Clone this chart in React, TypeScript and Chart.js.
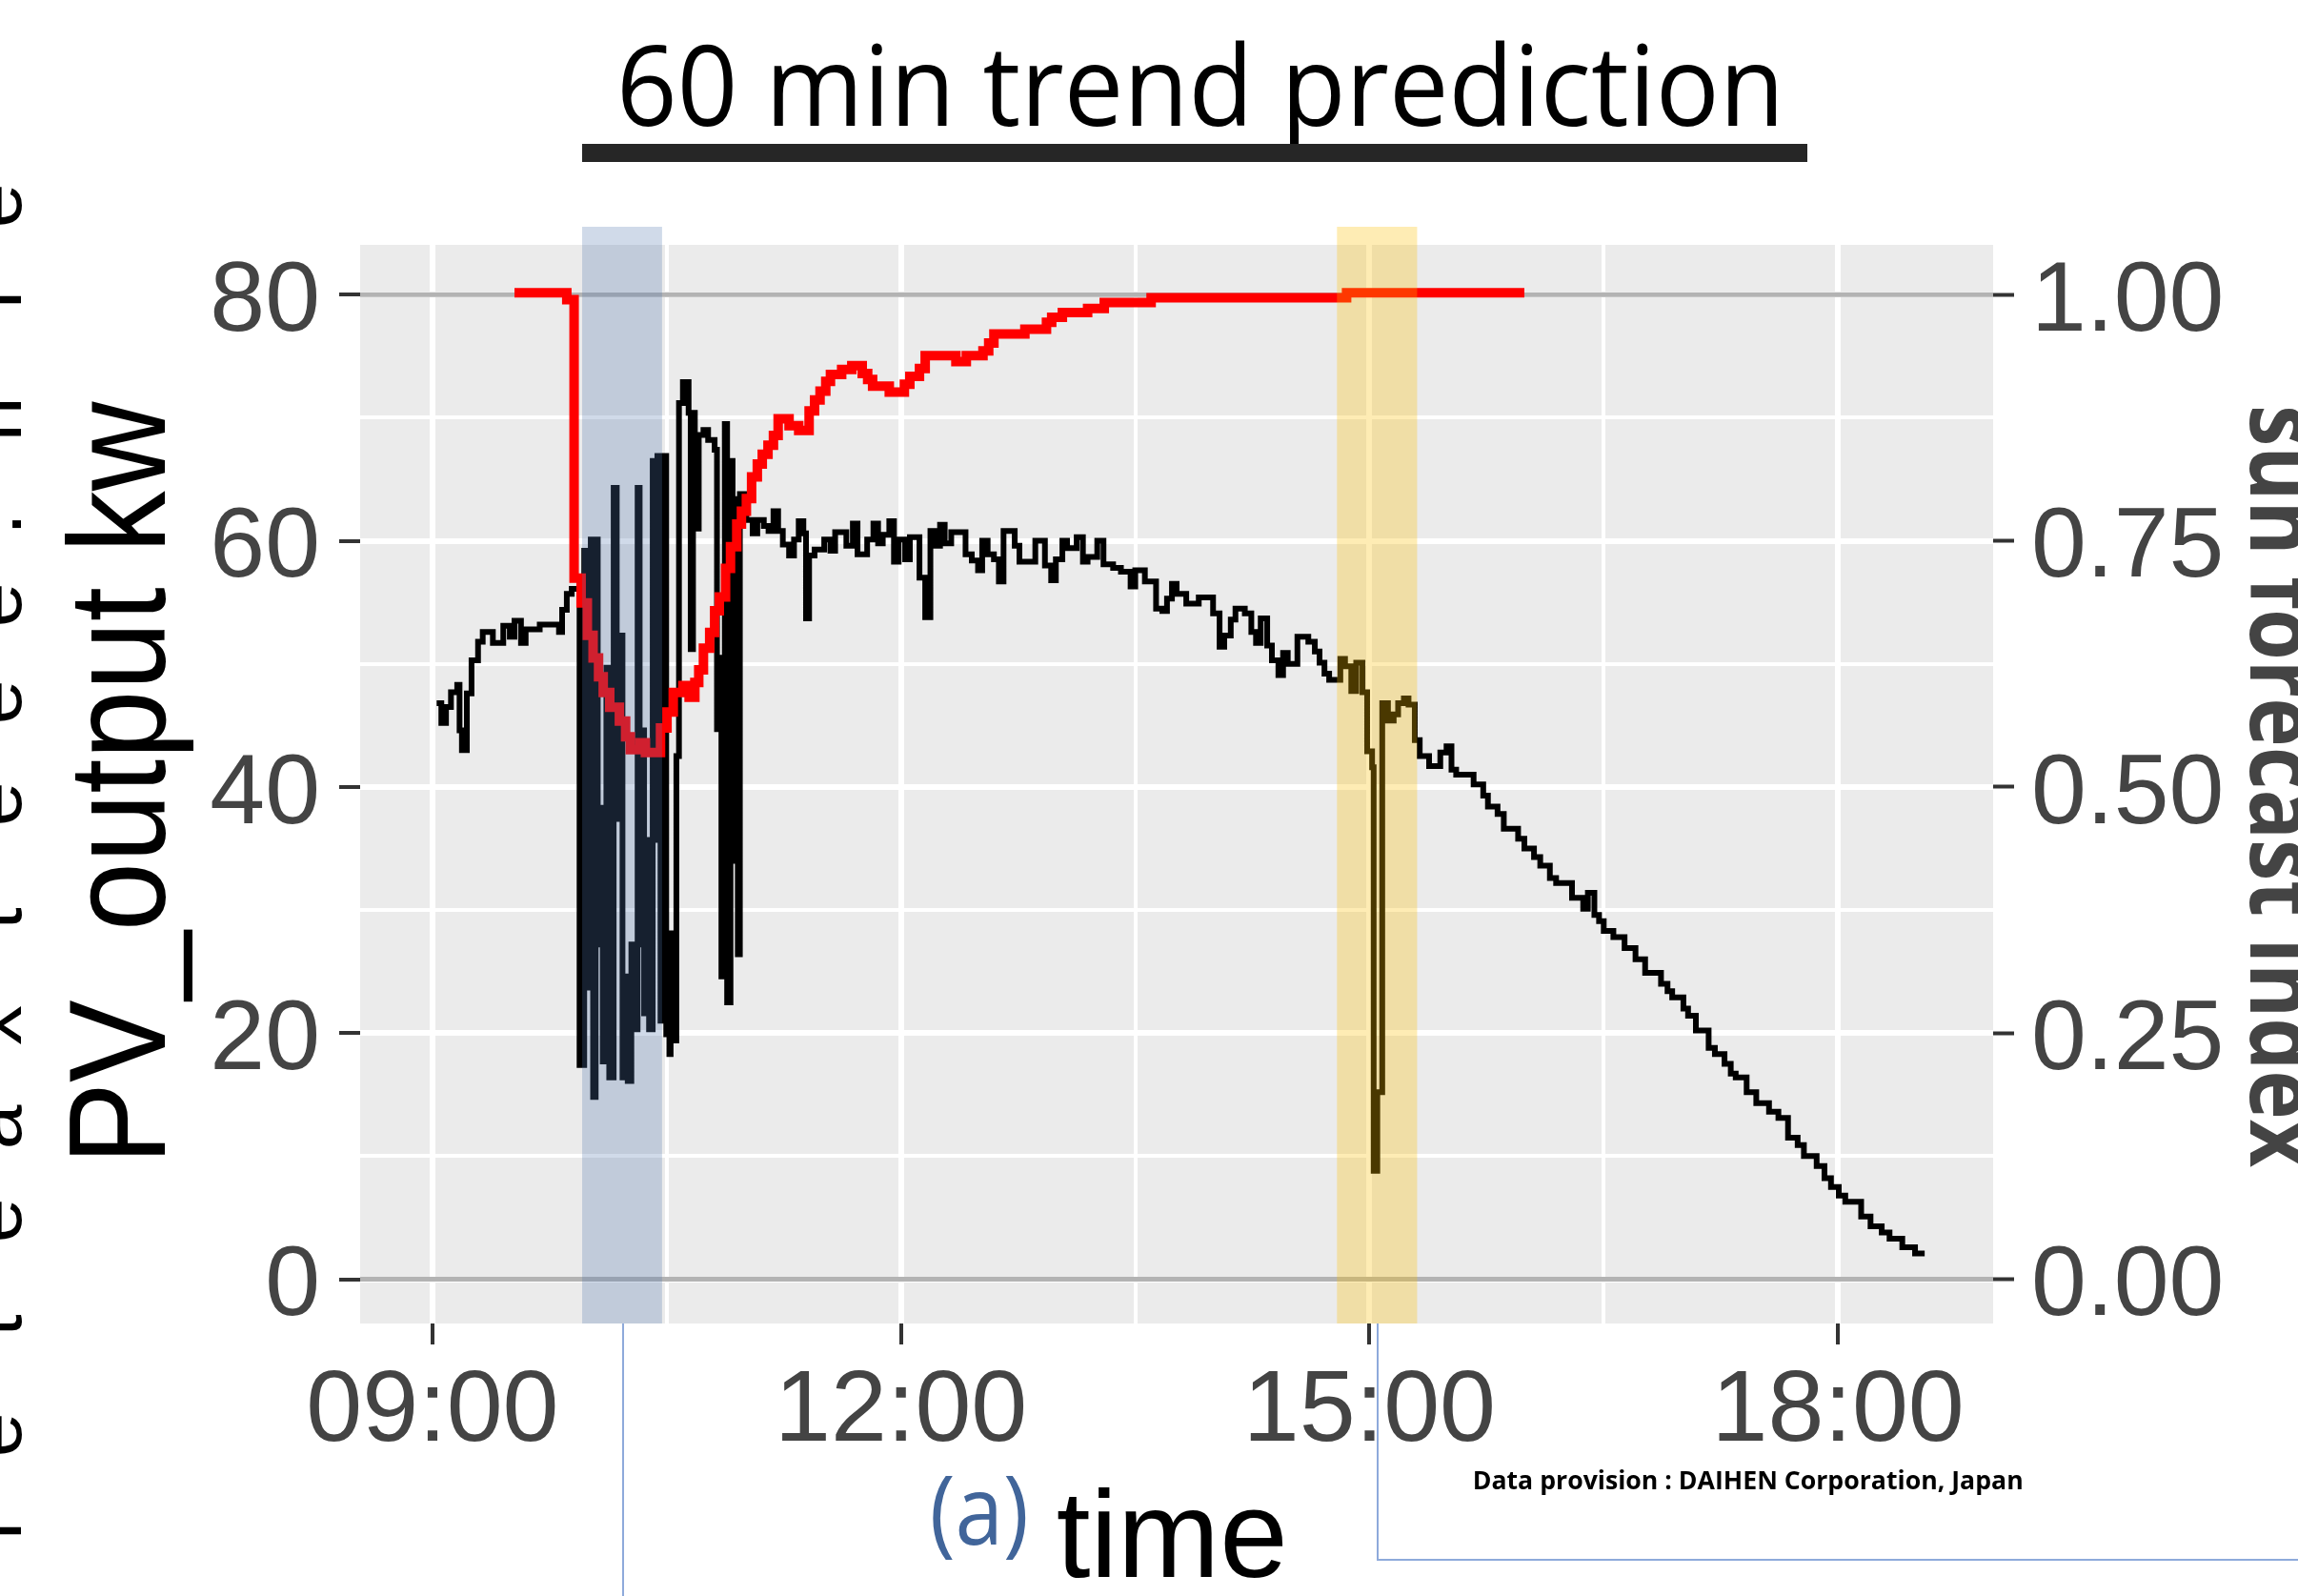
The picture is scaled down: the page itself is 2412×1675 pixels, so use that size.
import React, { useEffect, useRef } from 'react';
import { Chart, registerables } from 'chart.js';

Chart.register(...registerables);

const W = 2412;
const H = 1675;

// PV output (kW); time in minutes after 09:00
const pvMinutes = [
  1.6, 3.4, 5.2, 7.1, 9.5, 10.4, 11.3, 13.2, 15.0, 17.5, 19.3, 23.2, 27.2, 29.7, 31.5, 34.0, 35.8, 41.2, 48.6, 49.8,
  51.6, 53.5, 56.5, 58.3, 59.3, 60.8, 61.7, 62.7, 63.5, 64.7, 65.4, 66.8, 67.9, 69.6, 70.8, 71.8, 73.0, 74.2, 75.0, 76.4,
  77.4, 78.8, 79.6, 80.3, 81.3, 82.2, 83.2, 84.6, 85.4, 86.4, 87.6, 88.6, 89.8, 91.0, 91.5, 92.5, 93.7, 94.7, 96.2, 98.4,
  99.2, 100.1, 100.8, 102.3, 104.1, 105.9, 108.4, 109.3, 110.2, 111.0, 112.3, 113.2, 114.5, 115.3, 116.3, 117.3, 118.1, 120.6, 123.0, 124.8,
  127.3, 129.1, 131.0, 132.8, 134.6, 137.0, 138.9, 140.7, 142.5, 143.5, 144.7, 146.8, 150.5, 152.9, 154.7, 159.0, 161.5, 163.3, 167.0, 169.4,
  171.2, 173.0, 175.5, 177.3, 179.1, 181.6, 183.4, 187.1, 189.3, 191.3, 193.2, 195.0, 196.8, 199.3, 204.8, 207.2, 209.6, 211.2, 213.3, 215.7,
  217.6, 219.4, 223.7, 225.5, 231.6, 235.3, 237.7, 239.5, 242.0, 243.8, 247.5, 249.9, 251.7, 255.4, 257.8, 261.5, 264.5, 268.2, 270.0, 273.7,
  278.0, 280.4, 282.2, 284.1, 285.9, 289.6, 294.4, 299.9, 302.4, 304.2, 306.7, 308.5, 312.1, 314.6, 316.4, 318.2, 320.7, 322.5, 325.0, 326.8,
  328.6, 332.3, 336.5, 339.0, 340.8, 342.7, 344.5, 348.8, 350.6, 353.0, 354.9, 357.3, 359.1, 361.0, 361.6, 363.0, 364.9, 367.1, 369.3, 371.0,
  373.2, 375.0, 377.4, 379.3, 382.9, 387.2, 389.6, 391.5, 393.3, 400.0, 403.7, 405.5, 409.2, 411.6, 417.1, 419.5, 423.2, 425.6, 429.3, 431.7,
  437.8, 442.1, 443.9, 446.4, 448.2, 450.0, 453.7, 458.0, 462.2, 465.9, 472.0, 474.5, 476.3, 480.6, 482.4, 485.4, 490.3, 492.7, 496.4, 498.8,
  500.7, 504.9, 508.6, 513.5, 517.1, 520.8, 524.5, 526.9, 531.8, 534.8, 537.3, 540.3, 542.8, 548.9, 552.5, 556.8, 559.8, 564.7, 569.6, 573.3,
];
const pvKw = [
  46.8, 45.2, 46.5, 47.7, 48.3, 44.6, 43.0, 47.6, 50.3, 51.8, 52.6, 51.7, 53.1, 52.2, 53.5, 51.7, 52.8, 53.2, 52.6, 54.4,
  55.7, 56.1, 17.4, 59.2, 23.7, 60.1, 14.8, 60.1, 27.2, 38.3, 17.7, 49.7, 16.4, 64.3, 37.4, 52.3, 16.4, 24.6, 16.1, 27.2,
  20.3, 64.3, 27.2, 44.6, 21.6, 35.7, 20.3, 66.5, 35.7, 66.9, 21.0, 66.9, 19.9, 18.3, 28.1, 19.4, 42.5, 71.2, 72.9, 70.4,
  51.2, 70.4, 61.0, 68.6, 69.0, 68.2, 67.4, 44.7, 50.5, 24.6, 69.5, 22.5, 66.5, 34.0, 63.4, 26.4, 63.8, 61.7, 60.6, 61.7,
  61.2, 60.8, 62.4, 60.8, 59.7, 58.8, 60.1, 61.6, 60.6, 53.7, 58.8, 59.3, 60.1, 59.2, 60.7, 59.6, 61.4, 58.9, 60.1, 61.4,
  59.8, 60.5, 61.6, 58.3, 60.1, 58.5, 60.3, 57.0, 53.8, 60.8, 59.6, 61.3, 59.8, 60.7, 58.9, 58.4, 57.6, 60.0, 58.9, 58.5,
  56.7, 60.8, 59.6, 58.3, 60.0, 58.0, 56.8, 58.5, 60.0, 59.4, 60.3, 58.3, 58.7, 60.0, 58.1, 57.8, 57.5, 56.3, 57.6, 56.7,
  54.5, 54.3, 55.3, 56.5, 55.7, 54.9, 55.4, 54.1, 51.4, 52.3, 53.6, 54.5, 54.1, 52.6, 51.7, 53.7, 51.5, 50.3, 49.1, 50.9,
  50.0, 52.2, 51.8, 51.0, 50.1, 49.2, 48.7, 50.4, 49.8, 47.8, 50.1, 47.7, 42.9, 41.6, 8.8, 15.2, 46.8, 45.4, 45.9, 46.8,
  47.2, 46.7, 43.8, 42.5, 41.7, 42.8, 43.3, 41.4, 41.0, 40.2, 39.3, 38.4, 37.8, 36.6, 35.8, 35.0, 34.3, 33.6, 32.6, 32.2,
  31.0, 30.1, 31.4, 29.6, 29.1, 28.3, 27.8, 26.9, 26.0, 24.9, 24.0, 23.4, 22.9, 22.0, 21.4, 20.2, 18.8, 18.3, 17.5, 16.7,
  16.4, 15.2, 14.3, 13.6, 13.1, 11.5, 10.9, 10.0, 9.2, 8.2, 7.5, 6.8, 6.3, 5.1, 4.3, 3.8, 3.3, 2.6, 2.1, 2.1,
];

// sun forecast index (0-1); time in minutes after 09:00
const sunMinutes = [
  31.5, 51.6, 54.4, 57.1, 59.5, 61.7, 63.8, 65.6, 68.1, 71.8, 74.2, 76.0, 79.7, 81.8, 87.6, 90.1, 92.5, 96.2, 98.6, 100.8,
  102.3, 104.1, 106.5, 108.4, 110.2, 112.6, 114.5, 116.9, 118.7, 120.6, 122.6, 124.8, 126.7, 128.9, 131.0, 132.8, 137.0, 140.7, 144.7, 146.8,
  148.9, 151.1, 152.9, 157.2, 161.1, 165.1, 167.2, 169.1, 175.5, 181.3, 183.4, 187.1, 189.3, 201.1, 205.1, 211.5, 213.7, 215.7, 227.6, 235.9,
  237.9, 242.0, 251.7, 258.1, 276.1, 351.2, 419.5,
];
const sunIndex = [
  1.002, 0.995, 0.712, 0.687, 0.654, 0.631, 0.612, 0.596, 0.581, 0.567, 0.551, 0.538, 0.545, 0.535, 0.56, 0.576, 0.596, 0.603, 0.591, 0.606,
  0.619, 0.641, 0.657, 0.679, 0.693, 0.722, 0.744, 0.767, 0.78, 0.793, 0.815, 0.828, 0.838, 0.847, 0.857, 0.874, 0.867, 0.862, 0.882, 0.893,
  0.902, 0.912, 0.919, 0.924, 0.928, 0.92, 0.914, 0.907, 0.901, 0.909, 0.917, 0.925, 0.938, 0.932, 0.938, 0.943, 0.951, 0.96, 0.965, 0.972,
  0.977, 0.982, 0.986, 0.992, 0.997, 1.002, 1.002,
];

const xTickMinutes = [0, 90, 180, 270, 360, 450, 540];
const xTickLabels = ['09:00', '', '12:00', '', '15:00', '', '18:00'];
const kwTicks = [0, 10, 20, 30, 40, 50, 60, 70, 80];
const kwLabels = ['0', '', '20', '', '40', '', '60', '', '80'];
const indexTicks = [0, 0.25, 0.5, 0.75, 1];
const indexLabels = ['0.00', '0.25', '0.50', '0.75', '1.00'];
const refLinesKw = [0, 80];

// highlighted periods (minutes after 09:00)
const bandStart = [57.5, 347.5];
const bandEnd = [88.2, 378.3];

const leftEdgeChars = ['e', 'r', 'n', '.', 'e', 'e', 'e', 't', 'x', 'a', 'e', 't', 'e', 'r'];

const TEXT = {
  title: '60 min trend prediction',
  yLeft: 'PV_output kw',
  yRight: 'sun forecast index',
  xTitle: 'time',
  panel: '(a)',
  credit: 'Data provision : DAIHEN Corporation, Japan',
};

// styles
const bandColors = ['rgba(81,118,174,0.27)', 'rgba(252,190,0,0.294)'];
const leftEdgeY = [216, 310, 440, 550, 635, 737, 844, 964, 1076, 1183, 1281, 1391, 1506, 1602];

function fitText(
  ctx: CanvasRenderingContext2D,
  text: string,
  font: string,
  color: string,
  x: number,
  y: number,
  align: CanvasTextAlign,
  targetWidth: number | null,
  rotation = 0,
) {
  ctx.save();
  ctx.translate(x, y);
  if (rotation) ctx.rotate(rotation);
  ctx.font = font;
  ctx.fillStyle = color;
  ctx.textAlign = align;
  ctx.textBaseline = 'alphabetic';
  const w = ctx.measureText(text).width;
  if (targetWidth && w > 0) ctx.scale(targetWidth / w, 1);
  ctx.fillText(text, 0, 0);
  ctx.restore();
}

const decorPlugin = {
  id: 'decor',
  beforeDraw(chart: any) {
    const { ctx, chartArea } = chart;
    ctx.save();
    ctx.fillStyle = '#ffffff';
    ctx.fillRect(0, 0, chart.width, chart.height);
    ctx.fillStyle = '#ebebeb';
    ctx.fillRect(chartArea.left, chartArea.top, chartArea.right - chartArea.left, chartArea.bottom - chartArea.top);
    ctx.restore();
  },
  beforeDatasetsDraw(chart: any) {
    const { ctx, chartArea } = chart;
    const y = chart.scales.y;
    ctx.save();
    ctx.strokeStyle = '#b3b3b3';
    ctx.lineWidth = 5;
    refLinesKw.forEach((v) => {
      const py = y.getPixelForValue(v);
      ctx.beginPath();
      ctx.moveTo(chartArea.left, py);
      ctx.lineTo(chartArea.right, py);
      ctx.stroke();
    });
    ctx.restore();
  },
  afterDatasetsDraw(chart: any) {
    const { ctx, chartArea } = chart;
    const x = chart.scales.x;
    ctx.save();
    bandStart.forEach((s, i) => {
      const x0 = x.getPixelForValue(s);
      const x1 = x.getPixelForValue(bandEnd[i]);
      ctx.fillStyle = bandColors[i];
      ctx.fillRect(x0, chartArea.top - 19, x1 - x0, chartArea.bottom - chartArea.top + 19);
    });
    ctx.restore();
  },
  afterDraw(chart: any) {
    const ctx: CanvasRenderingContext2D = chart.ctx;
    // title + underline
    fitText(ctx, TEXT.title, '117px "Open Sans"', '#000000', 1260, 131.7, 'center', 1226);
    ctx.save();
    ctx.fillStyle = '#262626';
    ctx.fillRect(611, 151, 1286, 19);
    ctx.restore();
    // axis titles
    fitText(ctx, TEXT.yLeft, '144px "Liberation Sans"', '#000000', 173, 822, 'center', 801, -Math.PI / 2);
    fitText(ctx, TEXT.yRight, 'bold 100px "Open Sans"', '#444444', 2362, 825, 'center', 800, Math.PI / 2);
    fitText(ctx, TEXT.panel, '100px "Open Sans"', '#41659a', 975.7, 1621, 'left', 104);
    fitText(ctx, TEXT.xTitle, '130px "Liberation Sans"', '#000000', 1108.7, 1655, 'left', 243);
    fitText(ctx, TEXT.credit, 'bold 26px "Open Sans"', '#000000', 1545.7, 1563, 'left', 578);
    // clipped neighbouring text at page edge
    leftEdgeChars.forEach((c, i) => {
      fitText(ctx, c, '84px "Liberation Sans"', '#000000', 22, leftEdgeY[i], 'center', null, -Math.PI / 2);
    });
    // document frame lines
    ctx.save();
    ctx.strokeStyle = '#8eaadb';
    ctx.lineWidth = 2;
    ctx.beginPath();
    ctx.moveTo(654, 1389);
    ctx.lineTo(654, H);
    ctx.moveTo(1446, 1389);
    ctx.lineTo(1446, 1637);
    ctx.lineTo(W, 1637);
    ctx.stroke();
    ctx.restore();
  },
};

export default function App() {
  const canvasRef = useRef<HTMLCanvasElement | null>(null);

  useEffect(() => {
    const canvas = canvasRef.current;
    if (!canvas) return;
    const tickFont = { family: '"Liberation Sans", Arial, sans-serif', size: 104 };
    const chart = new Chart(canvas, {
      type: 'line',
      data: {
        datasets: [
          {
            label: TEXT.yRight,
            data: sunMinutes.map((m, i) => ({ x: m, y: sunIndex[i] })),
            yAxisID: 'y1',
            borderColor: '#ff0000',
            borderWidth: 10,
            pointRadius: 0,
            stepped: true,
            fill: false,
            borderJoinStyle: 'miter',
            borderCapStyle: 'butt',
          },
          {
            label: TEXT.yLeft,
            data: pvMinutes.map((m, i) => ({ x: m, y: pvKw[i] })),
            yAxisID: 'y',
            borderColor: '#000000',
            borderWidth: 6,
            pointRadius: 0,
            stepped: true,
            fill: false,
            borderJoinStyle: 'miter',
            borderCapStyle: 'butt',
          },
        ],
      },
      options: {
        responsive: false,
        animation: false,
        devicePixelRatio: 1,
        layout: { padding: { top: 257, left: 0, right: 0, bottom: 0 } },
        plugins: { legend: { display: false }, tooltip: { enabled: false }, title: { display: false } },
        scales: {
          x: {
            type: 'linear',
            min: -27.8,
            max: 599.6,
            afterBuildTicks: (s: any) => {
              s.ticks = xTickMinutes.map((v) => ({ value: v }));
            },
            afterFit: (s: any) => {
              s.height = H - 1389;
            },
            ticks: {
              autoSkip: false,
              maxRotation: 0,
              minRotation: 0,
              padding: 8,
              color: '#444444',
              font: { ...tickFont, size: 106 },
              callback: (v: any) => {
                const i = xTickMinutes.indexOf(Number(v));
                return i >= 0 ? xTickLabels[i] : '';
              },
            },
            grid: {
              color: '#ffffff',
              lineWidth: (c: any) => (c.tick && c.tick.value % 180 === 0 ? 6 : 4),
              tickColor: (c: any) => (c.tick && c.tick.value % 180 === 0 ? '#333333' : 'rgba(0,0,0,0)'),
              tickLength: 22,
              tickWidth: 4,
            },
            border: { display: false },
          },
          y: {
            type: 'linear',
            position: 'left',
            min: -3.6,
            max: 84.05,
            afterBuildTicks: (s: any) => {
              s.ticks = kwTicks.map((v) => ({ value: v }));
            },
            afterFit: (s: any) => {
              s.width = 378;
            },
            ticks: {
              autoSkip: false,
              padding: 20,
              labelOffset: 9,
              color: '#444444',
              font: tickFont,
              callback: (v: any) => {
                const i = kwTicks.indexOf(Number(v));
                return i >= 0 ? kwLabels[i] : '';
              },
            },
            grid: {
              color: '#ffffff',
              lineWidth: (c: any) => (c.tick && c.tick.value % 20 === 0 ? 6 : 4),
              tickColor: (c: any) => (c.tick && c.tick.value % 20 === 0 ? '#333333' : 'rgba(0,0,0,0)'),
              tickLength: 22,
              tickWidth: 4,
            },
            border: { display: false },
          },
          y1: {
            type: 'linear',
            position: 'right',
            min: -0.045,
            max: 1.0506,
            afterBuildTicks: (s: any) => {
              s.ticks = indexTicks.map((v) => ({ value: v }));
            },
            afterFit: (s: any) => {
              s.width = W - 2092;
            },
            ticks: {
              autoSkip: false,
              padding: 18,
              labelOffset: 9,
              color: '#444444',
              font: tickFont,
              callback: (v: any) => {
                const i = indexTicks.indexOf(Number(v));
                return i >= 0 ? indexLabels[i] : '';
              },
            },
            grid: {
              drawOnChartArea: false,
              tickColor: '#333333',
              tickLength: 22,
              tickWidth: 4,
            },
            border: { display: false },
          },
        },
      } as any,
      plugins: [decorPlugin],
    });
    return () => chart.destroy();
  }, []);

  return (
    <div style={{ position: 'absolute', left: 0, top: 0, width: W, height: H, overflow: 'hidden', background: '#ffffff' }}>
      <canvas ref={canvasRef} width={W} height={H} style={{ display: 'block', width: W, height: H }} />
    </div>
  );
}
